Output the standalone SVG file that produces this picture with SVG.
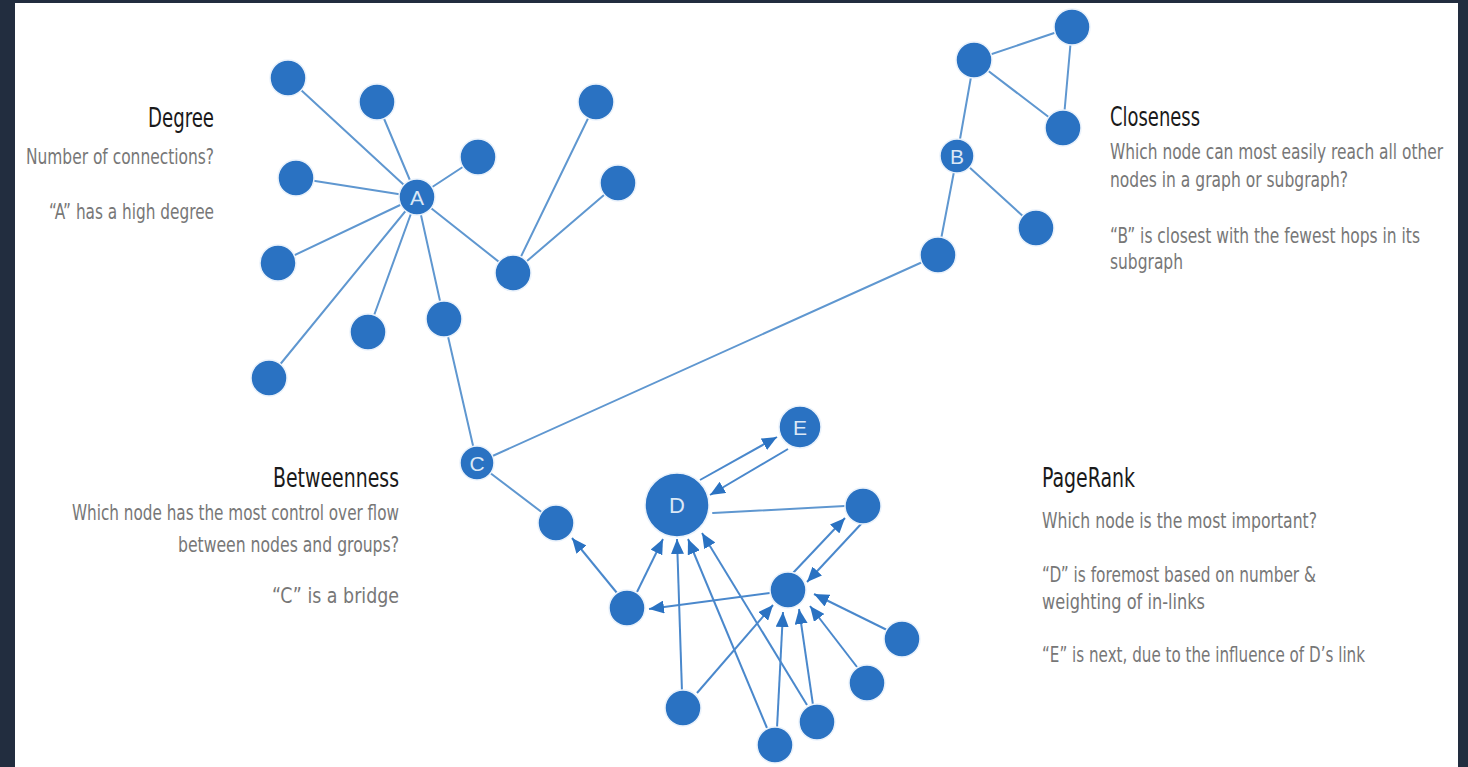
<svg xmlns="http://www.w3.org/2000/svg" width="1468" height="767" viewBox="0 0 1468 767">
<defs>
<style>
.edge{stroke:#5f97d0;stroke-width:2;fill:none;stroke-linecap:round}
.arr{stroke:#4a88cc;stroke-width:2;fill:none;marker-end:url(#ah)}
.node{fill:#2a72c2;stroke:#eaf2fb;stroke-width:1.5}
.lbl{font-family:"Liberation Sans","DejaVu Sans",sans-serif;fill:#dbe8f6;text-anchor:middle}
.title{font-family:"Liberation Sans Narrow","DejaVu Sans Condensed","Liberation Sans",sans-serif;font-stretch:condensed;font-size:26px;fill:#1a1a1a;font-weight:500}
.body{font-family:"Liberation Sans Narrow","DejaVu Sans Condensed","Liberation Sans",sans-serif;font-stretch:condensed;font-size:21px;fill:#777777}
</style>
<marker id="ah" viewBox="0 0 15 13" markerWidth="15" markerHeight="13" refX="15" refY="6.5" orient="auto" markerUnits="userSpaceOnUse">
<path d="M0,0 L15,6.5 L0,13 z" fill="#2a72c2"/>
</marker>
</defs>
<rect x="0" y="0" width="1468" height="767" fill="#222d3f"/>
<rect x="15" y="3" width="1443" height="764" fill="#ffffff"/>

<g id="connectors">
<line class="edge" x1="417" y1="197" x2="288" y2="78"/>
<line class="edge" x1="417" y1="197" x2="377" y2="102"/>
<line class="edge" x1="417" y1="197" x2="478" y2="157"/>
<line class="edge" x1="417" y1="197" x2="296" y2="178"/>
<line class="edge" x1="417" y1="197" x2="278" y2="263"/>
<line class="edge" x1="417" y1="197" x2="368" y2="332"/>
<line class="edge" x1="417" y1="197" x2="444" y2="319"/>
<line class="edge" x1="417" y1="197" x2="269" y2="378"/>
<line class="edge" x1="417" y1="197" x2="513" y2="273"/>
<line class="edge" x1="513" y1="273" x2="596" y2="102"/>
<line class="edge" x1="513" y1="273" x2="618" y2="183"/>
<line class="edge" x1="444" y1="319" x2="477" y2="463"/>
<line class="edge" x1="477" y1="463" x2="938" y2="255"/>
<line class="edge" x1="477" y1="463" x2="556" y2="523"/>
<line class="edge" x1="957" y1="156" x2="974" y2="60"/>
<line class="edge" x1="957" y1="156" x2="1036" y2="228"/>
<line class="edge" x1="957" y1="156" x2="938" y2="255"/>
<line class="edge" x1="974" y1="60" x2="1072" y2="27"/>
<line class="edge" x1="974" y1="60" x2="1063" y2="128"/>
<line class="edge" x1="1072" y1="27" x2="1063" y2="128"/>
<line class="edge" x1="845" y1="506" x2="713" y2="513"/>
<line class="arr" x1="700" y1="480" x2="777" y2="437"/>
<line class="arr" x1="788" y1="449" x2="710" y2="495"/>
<line class="arr" x1="793" y1="573" x2="845" y2="518"/>
<line class="arr" x1="862" y1="523" x2="807" y2="582"/>
<line class="arr" x1="770" y1="593" x2="649" y2="609"/>
<line class="arr" x1="637" y1="592" x2="663" y2="539"/>
<line class="arr" x1="617" y1="593" x2="572" y2="538"/>
<line class="arr" x1="682" y1="692" x2="677" y2="539"/>
<line class="arr" x1="697" y1="693" x2="773" y2="605"/>
<line class="arr" x1="767" y1="728" x2="688" y2="539"/>
<line class="arr" x1="777" y1="728" x2="783" y2="612"/>
<line class="arr" x1="807" y1="705" x2="702" y2="533"/>
<line class="arr" x1="813" y1="705" x2="799" y2="609"/>
<line class="arr" x1="857" y1="667" x2="810" y2="606"/>
<line class="arr" x1="887" y1="630" x2="814" y2="594"/>
</g>

<g id="node-a"><circle class="node" cx="417" cy="197" r="18"/><text class="lbl" x="417" y="205" font-size="21">A</text></g>
<g id="node-a1"><circle class="node" cx="288" cy="78" r="18"/></g>
<g id="node-a2"><circle class="node" cx="377" cy="102" r="18"/></g>
<g id="node-a3"><circle class="node" cx="478" cy="157" r="18"/></g>
<g id="node-a4"><circle class="node" cx="296" cy="178" r="18"/></g>
<g id="node-a5"><circle class="node" cx="278" cy="263" r="18"/></g>
<g id="node-a6"><circle class="node" cx="368" cy="332" r="18"/></g>
<g id="node-a7"><circle class="node" cx="444" cy="319" r="18"/></g>
<g id="node-a8"><circle class="node" cx="269" cy="378" r="18"/></g>
<g id="node-a9"><circle class="node" cx="513" cy="273" r="18"/></g>
<g id="node-a10"><circle class="node" cx="596" cy="102" r="18"/></g>
<g id="node-a11"><circle class="node" cx="618" cy="183" r="18"/></g>

<g id="node-b"><circle class="node" cx="957" cy="156" r="17"/><text class="lbl" x="957" y="164" font-size="21">B</text></g>
<g id="node-b1"><circle class="node" cx="974" cy="60" r="18"/></g>
<g id="node-b2"><circle class="node" cx="1072" cy="27" r="18"/></g>
<g id="node-b3"><circle class="node" cx="1063" cy="128" r="18"/></g>
<g id="node-b4"><circle class="node" cx="1036" cy="228" r="18"/></g>
<g id="node-b5"><circle class="node" cx="938" cy="255" r="18"/></g>

<g id="node-c"><circle class="node" cx="477" cy="463" r="17"/><text class="lbl" x="477" y="471" font-size="21">C</text></g>
<g id="node-c1"><circle class="node" cx="556" cy="523" r="18"/></g>

<g id="node-d"><circle class="node" cx="677" cy="505" r="32"/><text class="lbl" x="677" y="513" font-size="22">D</text></g>
<g id="node-e"><circle class="node" cx="800" cy="427" r="21"/><text class="lbl" x="800" y="435" font-size="21">E</text></g>
<g id="node-r"><circle class="node" cx="863" cy="506" r="18"/></g>
<g id="node-h"><circle class="node" cx="788" cy="590" r="18"/></g>
<g id="node-l"><circle class="node" cx="627" cy="608" r="18"/></g>
<g id="node-p1"><circle class="node" cx="683" cy="708" r="18"/></g>
<g id="node-p2"><circle class="node" cx="775" cy="745" r="18"/></g>
<g id="node-p3"><circle class="node" cx="817" cy="722" r="18"/></g>
<g id="node-p4"><circle class="node" cx="867" cy="683" r="18"/></g>
<g id="node-p5"><circle class="node" cx="902" cy="639" r="18"/></g>

<g id="text-degree" text-anchor="end">
<text class="title" x="214" y="127" textLength="66" lengthAdjust="spacingAndGlyphs">Degree</text>
<text class="body" x="214" y="164" textLength="188" lengthAdjust="spacingAndGlyphs">Number of connections?</text>
<text class="body" x="214" y="219" textLength="165" lengthAdjust="spacingAndGlyphs">“A” has a high degree</text>
</g>
<g id="text-closeness">
<text class="title" x="1110" y="126" textLength="90" lengthAdjust="spacingAndGlyphs">Closeness</text>
<text class="body" x="1110" y="159" textLength="333" lengthAdjust="spacingAndGlyphs">Which node can most easily reach all other</text>
<text class="body" x="1110" y="187" textLength="238" lengthAdjust="spacingAndGlyphs">nodes in a graph or subgraph?</text>
<text class="body" x="1110" y="243" textLength="310" lengthAdjust="spacingAndGlyphs">“B” is closest with the fewest hops in its</text>
<text class="body" x="1110" y="269" textLength="73" lengthAdjust="spacingAndGlyphs">subgraph</text>
</g>
<g id="text-betweenness" text-anchor="end">
<text class="title" x="399" y="487" textLength="126" lengthAdjust="spacingAndGlyphs">Betweenness</text>
<text class="body" x="399" y="520" textLength="327" lengthAdjust="spacingAndGlyphs">Which node has the most control over flow</text>
<text class="body" x="399" y="552" textLength="221" lengthAdjust="spacingAndGlyphs">between nodes and groups?</text>
<text class="body" x="399" y="603" textLength="127" lengthAdjust="spacingAndGlyphs">“C” is  a bridge</text>
</g>
<g id="text-pagerank">
<text class="title" x="1042" y="487" textLength="93" lengthAdjust="spacingAndGlyphs">PageRank</text>
<text class="body" x="1042" y="528" textLength="275" lengthAdjust="spacingAndGlyphs">Which node is the most important?</text>
<text class="body" x="1042" y="582" textLength="274" lengthAdjust="spacingAndGlyphs">“D” is foremost based on number &amp;</text>
<text class="body" x="1042" y="609" textLength="163" lengthAdjust="spacingAndGlyphs">weighting of in-links</text>
<text class="body" x="1042" y="662" textLength="323" lengthAdjust="spacingAndGlyphs">“E” is next, due to the influence of D’s link</text>
</g>
</svg>
